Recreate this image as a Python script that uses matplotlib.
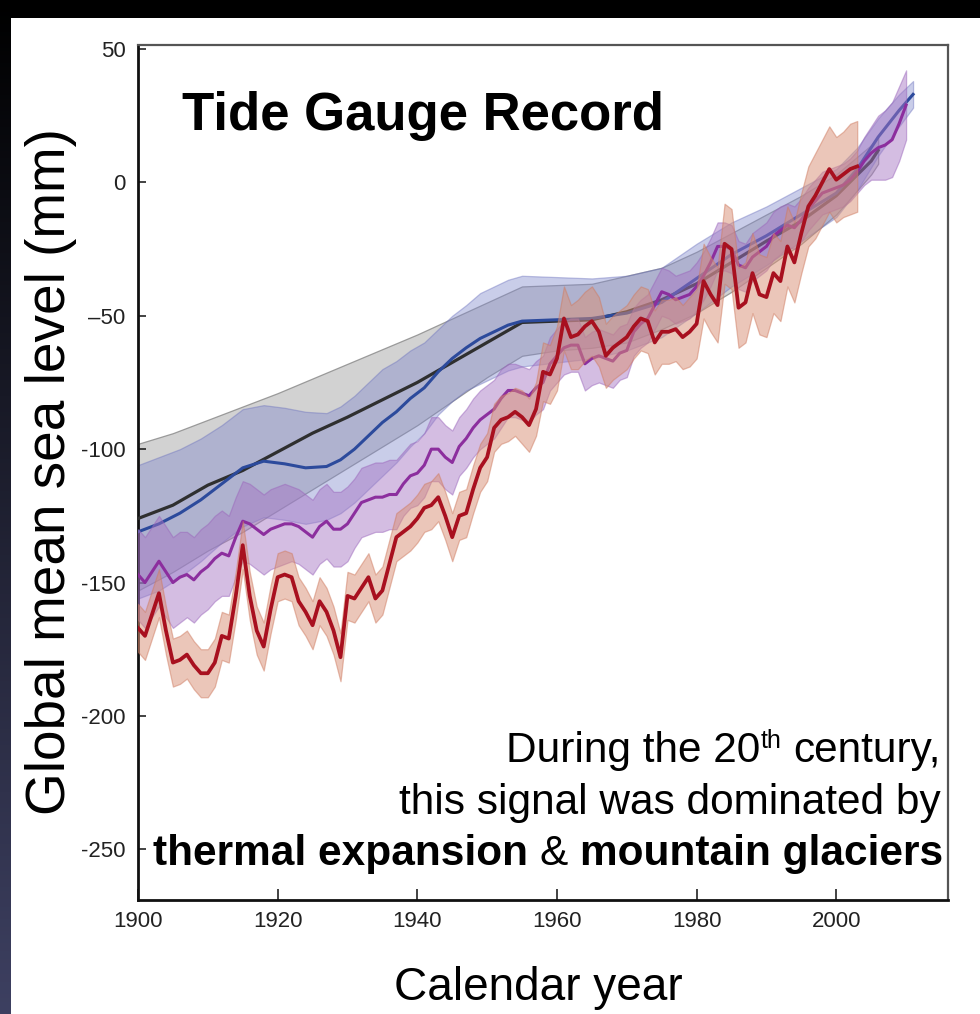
import numpy as np
import matplotlib
matplotlib.use('Agg')
import matplotlib.pyplot as plt
from matplotlib.patches import Rectangle

# ---------------- data ----------------
red_years = list(range(1900, 2004))
red_vals = [-167, -170, -162, -154, -168, -180, -179, -177, -181, -184,
            -184, -180, -170, -171, -155, -136, -155, -168, -174, -160,
            -148, -147, -148, -157, -161, -166, -157, -161, -168, -178,
            -155, -156, -152, -148, -156, -153, -143, -133, -131, -129,
            -126, -122, -121, -118, -125, -133, -125, -124, -115, -107,
            -103, -92, -89, -88, -86, -88, -91, -85, -71, -72,
            -66, -51, -58, -57, -54, -52, -56, -65, -62, -60,
            -58, -54, -51, -52, -60, -56, -56, -55, -58, -56,
            -53, -37, -42, -46, -23, -25, -47, -45, -34, -42,
            -43, -34, -37, -24, -30, -19, -9, -5, 0, 5,
            1, 3, 5, 6]
red_err = [9, 9, 9, 9, 9, 9, 9, 9, 9, 9,
           9, 9, 9, 9, 9, 9, 9, 9, 9, 9,
           9, 9, 9, 9, 9, 9, 9, 9, 9, 9,
           9, 9, 9, 9, 9, 9, 9, 9, 9, 9,
           9, 9, 9, 9, 9, 9, 9, 9, 9, 9,
           9, 9, 9, 9, 9, 10, 10, 10, 11, 11,
           12, 12, 12, 13, 13, 13, 13, 12, 12, 12,
           12, 12, 12, 12, 12, 12, 12, 12, 12, 13,
           13, 14, 14, 14, 15, 15, 15, 15, 15, 15,
           15, 15, 15, 15, 15, 15, 15, 16, 16, 16,
           16, 16, 17, 17]

purple_years = list(range(1900, 2011))
purple_vals = [-147, -150, -146, -142, -146, -150, -148, -147, -149, -146,
               -144, -141, -139, -140, -133, -127, -128, -130, -132, -130,
               -129, -128, -128, -129, -131, -133, -129, -127, -130, -130,
               -128, -124, -120, -119, -118, -118, -117, -117, -113, -110,
               -109, -106, -100, -100, -103, -105, -99, -96, -92, -89,
               -87, -85, -81, -78, -78, -79, -80, -77, -75, -68,
               -65, -62, -61, -61, -68, -66, -65, -66, -67, -64,
               -63, -56, -53, -51, -46, -41, -42, -44, -43, -42,
               -39, -35, -30, -24, -24, -25, -31, -32, -28, -26,
               -24, -20, -18, -16, -17, -14, -10, -7, -4, -3,
               -2, -1, 1, 4, 8, 11, 13, 14, 16, 22,
               29]
purple_err = [17, 17, 17, 17, 17, 17, 17, 16, 16, 16,
              16, 16, 16, 15, 15, 15, 15, 15, 15, 15,
              15, 15, 14, 14, 14, 14, 14, 14, 14, 14,
              14, 13, 13, 13, 13, 13, 13, 13, 12, 12,
              12, 12, 12, 12, 12, 12, 11, 11, 11, 11,
              11, 11, 11, 10, 10, 10, 10, 10, 10, 10,
              10, 10, 10, 10, 10, 10, 10, 10, 10, 10,
              10, 9, 9, 9, 9, 9, 9, 9, 9, 9,
              9, 9, 9, 9, 9, 9, 9, 9, 9, 9,
              9, 9, 9, 8, 8, 8, 8, 8, 8, 8,
              8, 8, 8, 8, 9, 10, 12, 13, 14, 14,
              13]

blue_years = [1900, 1903, 1906, 1909, 1912, 1915, 1918, 1921, 1924, 1927,
              1929, 1931, 1933, 1935, 1937, 1939, 1941, 1943, 1945, 1947,
              1949, 1951, 1953, 1955, 1960, 1965, 1970, 1975, 1980, 1985,
              1990, 1995, 2000, 2003, 2006, 2009, 2011]
blue_vals = [-131, -128, -124, -119, -113, -107, -104.5, -105.5, -107, -106.5,
             -104, -100, -95, -90, -86, -81, -77, -71, -66, -62,
             -58.5, -56, -53.5, -52, -51.5, -51, -49, -45, -36, -27,
             -20, -12, -4, 5, 17, 27, 33]
blue_err = [25, 25, 24, 23, 22, 22, 21, 21, 21, 20,
            20, 20, 20, 20, 19, 18, 17, 16, 16, 16,
            17, 17, 17, 17, 16, 15, 14, 13, 13, 12,
            11, 10, 9, 8, 7, 6, 5]

black_years = [1900, 1905, 1910, 1915, 1920, 1925, 1930, 1935, 1940, 1945,
               1950, 1955, 1960, 1965, 1970, 1975, 1980, 1985, 1990, 1995,
               2000, 2005, 2006]
black_vals = [-126, -121, -113.5, -108, -101, -94, -88, -81.5, -75, -67.5,
              -60, -52.5, -52, -51.5, -48.5, -44, -38, -30, -22, -14.5,
              -5, 8, 12]
gray_upper = [-98, -94, -89, -84, -79, -73.5, -68, -62.5, -57, -51,
              -45, -39, -38.5, -38, -35, -32, -26, -19, -12, -5,
              3, 14, 17]
gray_lower = [-153, -146, -138, -131, -123, -115, -107, -99, -91, -82,
              -73, -65, -63, -62, -60, -55, -49, -41, -32, -23,
              -12, 3, 7]

x_ticks = [1900, 1920, 1940, 1960, 1980, 2000]
x_tick_labels = ['1900', '1920', '1940', '1960', '1980', '2000']
y_ticks = [50, 0, -50, -100, -150, -200, -250]
y_tick_labels = ['50', '0', '\u201350', '-100', '-150', '-200', '-250']

# ---------------- figure ----------------
W, H = 980, 1014
FONT = 'Liberation Sans'
plt.rcParams['font.family'] = [FONT, 'DejaVu Sans']

fig = plt.figure(figsize=(W / 100, H / 100), dpi=100)
fig.patch.set_facecolor('white')

# dark frame (top bar + left gradient strip)
fig.add_artist(Rectangle((0, 1 - 18 / H), 1, 18 / H, transform=fig.transFigure,
                         facecolor='black', edgecolor='none', zorder=0))
gax = fig.add_axes([0, 0, 11 / W, 1])
top_c = np.array([0.0, 0.0, 0.0])
bot_c = np.array([0.24, 0.25, 0.38])
t = np.linspace(0, 1, 256)[:, None, None]
grad = top_c[None, None, :] * (1 - t) + bot_c[None, None, :] * t
gax.imshow(grad, aspect='auto', extent=[0, 1, 0, 1])
gax.axis('off')

ax = fig.add_axes([138 / W, 1 - 900 / H, 810 / W, 855 / H])
ax.set_xlim(1900, 2016)
ax.set_ylim(-269, 51.5)

# uncertainty bands
gu = np.array(gray_upper)
gl = np.array(gray_lower)
ax.fill_between(black_years, gl, gu, facecolor='#c4c4c4', edgecolor='#808080',
                alpha=0.75, lw=0.9, zorder=1)
bv = np.array(blue_vals)
be = np.array(blue_err)
ax.fill_between(blue_years, bv - be, bv + be, facecolor='#8088cc', edgecolor='#6a70bd',
                alpha=0.42, lw=0.9, zorder=2)
ax.plot(black_years, black_vals, color='#2f2f2f', lw=2.3, zorder=3)
ax.plot(blue_years, blue_vals, color='#2c4a9c', lw=2.2, zorder=4)

pv = np.array(purple_vals)
pe = np.array(purple_err)
ax.fill_between(purple_years, pv - pe, pv + pe, facecolor='#a675c4', edgecolor='#9a65bb',
                alpha=0.48, lw=0.9, zorder=5)
ax.plot(purple_years, purple_vals, color='#8c2e9e', lw=2.2, zorder=6)

rv = np.array(red_vals)
re_ = np.array(red_err)
ax.fill_between(red_years, rv - re_, rv + re_, facecolor='#d98f74', edgecolor='#cf7c62',
                alpha=0.5, lw=0.9, zorder=7)
ax.plot(red_years, red_vals, color='#a8101f', lw=2.7, zorder=8)

# axes styling
ax.set_xticks(x_ticks)
ax.set_xticklabels(x_tick_labels)
ax.set_yticks(y_ticks)
ax.set_yticklabels(y_tick_labels)
ax.tick_params(axis='x', direction='in', length=8, width=1.2, labelsize=16,
               pad=8, colors='#222222')
ax.tick_params(axis='y', direction='in', length=6, width=1.2, labelsize=16,
               pad=9, colors='#222222')
for s in ['left', 'bottom']:
    ax.spines[s].set_color('#111111')
    ax.spines[s].set_linewidth(2.0)
for s in ['top', 'right']:
    ax.spines[s].set_color('#555555')
    ax.spines[s].set_linewidth(1.6)

# axis titles
fig.text(51 / W, 1 - 472 / H, 'Global mean sea level (mm)', rotation=90,
         ha='center', va='center', fontsize=39.5, color='black')
fig.text(538 / W, 1 - 1000 / H, 'Calendar year', ha='center', va='baseline',
         fontsize=33, color='black')

# title inside plot
fig.text(182 / W, 1 - 130 / H, 'Tide Gauge Record', ha='left', va='baseline',
         fontsize=38, fontweight='bold', color='black')

# annotation (right aligned, mixed styles)
fig.canvas.draw()
renderer = fig.canvas.get_renderer()
SP = 12  # space width in px at 30.5 pt


def right_line(x_r, y_b, pieces):
    x = x_r
    for s, fs, wt, dy, gap in reversed(pieces):
        txt = fig.text(x / W, 1 - (y_b - dy) / H, s, ha='right', va='baseline',
                       fontsize=fs, fontweight=wt, color='black')
        bb = txt.get_window_extent(renderer)
        x = bb.x0 - gap


right_line(941, 762, [('During the 20', 30.5, 'normal', 0, 0),
                      ('th', 18, 'normal', 14, 1),
                      ('century,', 30.5, 'normal', 0, SP)])
right_line(941, 814, [('this signal was dominated by', 30.5, 'normal', 0, 0)])
right_line(943, 865, [('thermal expansion', 30.5, 'bold', 0, 0),
                      ('&', 30.5, 'normal', 0, SP),
                      ('mountain glaciers', 30.5, 'bold', 0, SP)])

fig.savefig('out.png', dpi=100, facecolor='white')
